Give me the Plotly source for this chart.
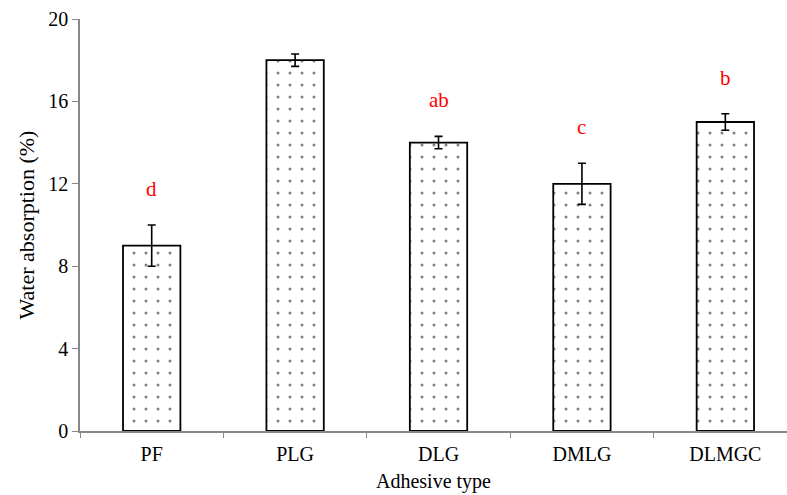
import plotly.graph_objects as go

categories = ["PF", "PLG", "DLG", "DMLG", "DLMGC"]
values = [9.0, 18.0, 14.0, 12.0, 15.0]
errors = [1.0, 0.3, 0.3, 1.0, 0.4]
letters = ["d", "", "ab", "c", "b"]
y_ticks = [0, 4, 8, 12, 16, 20]

FONT = "Liberation Serif"

fig = go.Figure()
fig.add_trace(go.Bar(
    x=categories, y=values,
    marker=dict(color="white", line=dict(color="black", width=1.8),
                pattern=dict(shape=".", fgcolor="black", bgcolor="white", size=12, solidity=0.05)),
    error_y=dict(type="data", array=errors, visible=True, color="black", thickness=1.6, width=4),
    width=0.4,
))

for c, v, e, t in zip(categories, values, errors, letters):
    if t:
        fig.add_annotation(x=c, y=v + e, text=t, showarrow=False, yanchor="bottom", yshift=22,
                           font=dict(family=FONT, size=21, color="#FF0000"))

fig.update_layout(
    width=787, height=495,
    margin=dict(l=80, r=0, t=19, b=64),
    plot_bgcolor="white", paper_bgcolor="white",
    showlegend=False,
    font=dict(family=FONT, size=20, color="black"),
    xaxis=dict(range=[-0.5, 4.43], showline=True, linecolor="#888888", linewidth=1.5,
               ticks="outside", tickson="boundaries", ticklen=5, tickcolor="#888888",
               showgrid=False, tickfont=dict(family=FONT, size=20), ticklabelstandoff=4,
               title=dict(text="Adhesive type", font=dict(family=FONT, size=20), standoff=10)),
    yaxis=dict(range=[0, 20], tickvals=y_ticks, showline=True, linecolor="#888888", linewidth=1.5,
               ticks="outside", ticklen=6, tickcolor="#888888", showgrid=False, zeroline=False,
               tickfont=dict(family=FONT, size=20),
               title=dict(text="Water absorption (%)", font=dict(family=FONT, size=22), standoff=8)),
)

fig.write_html("out.html")
